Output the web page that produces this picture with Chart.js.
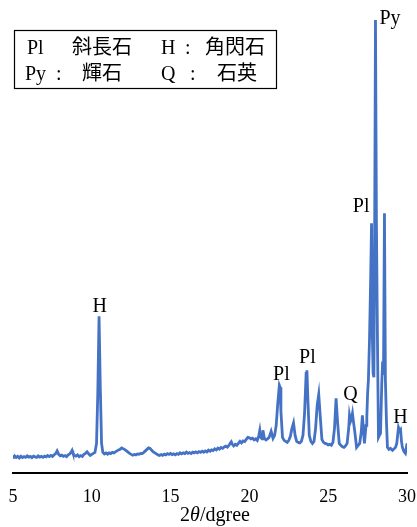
<!DOCTYPE html>
<html>
<head>
<meta charset="utf-8">
<script src="https://cdn.jsdelivr.net/npm/chart.js@4.4.1/dist/chart.umd.min.js"></script>
<style>
  html, body { margin: 0; padding: 0; background: #fff; }
  canvas { display: block; }
</style>
</head>
<body>
<canvas id="xrd" width="417" height="527"></canvas>
<script>
// 2theta (deg) and intensity
const twoTheta = [
  5.0, 5.1, 5.2, 5.3, 5.4, 5.5, 5.6, 5.7, 5.8, 5.9,
  6.0, 6.1, 6.2, 6.3, 6.4, 6.5, 6.6, 6.7, 6.8, 6.9,
  7.0, 7.1, 7.2, 7.3, 7.4, 7.5, 7.6, 7.7, 7.8, 7.9,
  8.0, 8.1, 8.2, 8.3, 8.4, 8.5, 8.6, 8.7, 8.75, 8.8, 8.9,
  9.0, 9.1, 9.2, 9.3, 9.4, 9.5, 9.6, 9.7, 9.8, 9.9,
  10.0, 10.1, 10.2, 10.3, 10.38, 10.46, 10.54, 10.62, 10.7, 10.8, 10.9,
  11.0, 11.1, 11.2, 11.3, 11.4, 11.5, 11.6, 11.7, 11.8, 11.9,
  12.0, 12.1, 12.2, 12.3, 12.4, 12.5, 12.6, 12.7, 12.8, 12.9,
  13.0, 13.1, 13.2, 13.3, 13.4, 13.5, 13.6, 13.7, 13.8, 13.9,
  14.0, 14.1, 14.2, 14.3, 14.4, 14.5, 14.6, 14.7, 14.8, 14.9,
  15.0, 15.1, 15.2, 15.3, 15.4, 15.5, 15.6, 15.7, 15.8, 15.9,
  16.0, 16.1, 16.2, 16.3, 16.4, 16.5, 16.6, 16.7, 16.8, 16.9,
  17.0, 17.1, 17.2, 17.3, 17.4, 17.5, 17.6, 17.7, 17.8, 17.9,
  18.0, 18.1, 18.2, 18.3, 18.4, 18.5, 18.6, 18.7, 18.8, 18.85, 18.9,
  19.0, 19.1, 19.2, 19.3, 19.4, 19.5, 19.6, 19.7, 19.8, 19.9,
  20.0, 20.1, 20.2, 20.3, 20.4, 20.5, 20.6, 20.66, 20.72, 20.8, 20.86, 20.95,
  21.05, 21.15, 21.25, 21.38, 21.5, 21.6, 21.7, 21.8, 21.9, 21.95,
  22.0, 22.1, 22.2, 22.3, 22.4, 22.5, 22.6, 22.7, 22.8, 22.9,
  23.0, 23.1, 23.2, 23.3, 23.4, 23.5, 23.6, 23.65, 23.72, 23.8, 23.9,
  24.0, 24.1, 24.2, 24.3, 24.4, 24.5, 24.6, 24.7, 24.8, 24.9,
  25.0, 25.1, 25.2, 25.3, 25.4, 25.5, 25.6, 25.7, 25.8, 25.9,
  26.0, 26.1, 26.2, 26.3, 26.35, 26.42, 26.47, 26.54, 26.6, 26.7, 26.8, 26.9,
  27.0, 27.1, 27.17, 27.25, 27.3, 27.4, 27.45, 27.5, 27.55, 27.62, 27.7, 27.75,
  27.8, 27.85, 27.9, 27.95, 28.0, 28.06, 28.13, 28.19, 28.25, 28.32, 28.4, 28.44,
  28.51, 28.57, 28.63, 28.7, 28.76, 28.85, 28.95,
  29.08, 29.18, 29.27, 29.35, 29.46, 29.53, 29.59, 29.65, 29.71, 29.8, 29.9, 29.96, 30.0
];
const intensity = [
  150, 175, 160, 170, 155, 172, 158, 168, 160, 175,
  162, 170, 158, 172, 165, 160, 175, 163, 170, 160,
  172, 165, 178, 168, 180, 170, 185, 195, 225, 190,
  175, 182, 170, 178, 168, 185, 195, 215, 230, 205, 180,
  172, 185, 168, 178, 170, 190, 200, 215, 195, 180,
  190, 200, 210, 300, 800, 1570, 850, 300, 210, 195, 205,
  192, 205, 198, 210, 205, 215, 225, 235, 242, 255,
  245, 238, 225, 212, 200, 190, 182, 190, 185, 195,
  192, 200, 198, 210, 225, 240, 255, 250, 230, 215,
  205, 195, 185, 180, 188, 180, 192, 185, 198, 190,
  200, 188, 195, 185, 198, 190, 205, 195, 205, 198,
  212, 200, 208, 198, 212, 205, 215, 205, 218, 210,
  222, 212, 225, 215, 232, 222, 235, 228, 245, 235,
  252, 242, 258, 250, 265, 272, 262, 280, 305, 315, 295,
  275, 290, 280, 300, 320, 305, 325, 318, 340, 360,
  355, 345, 352, 335, 345, 330, 380, 430, 360, 345, 430, 350,
  335, 345, 360, 420, 350, 380, 480, 700, 880, 860,
  620, 360, 330, 320, 310, 330, 370, 450, 505, 380,
  320, 310, 305, 320, 380, 600, 1000, 1030, 700, 380, 320,
  300, 320, 450, 680, 790, 560, 340, 310, 300, 295,
  285, 290, 280, 310, 450, 750, 500, 300, 280, 265,
  260, 275, 300, 450, 580, 520, 540, 600, 520, 400, 260, 280,
  300, 420, 580, 400, 300, 480, 560, 800, 930, 1330, 2000, 2500,
  1400, 1000, 960, 2500, 4530, 2500, 1260, 360, 380, 400, 900, 1060,
  1030, 2600, 930, 500, 260, 240, 250,
  230, 245, 260, 300, 460, 430, 440, 320, 260, 220, 200, 260, 300
];
const xTicks = [5, 10, 15, 20, 25, 30];

// mineral labels over the peaks (anchor in data units)
const peakText = ['H', 'Pl', 'Pl', 'Q', 'Pl', 'Py', 'H'];
const peakAt = [10.5, 22.03, 23.68, 26.41, 27.62, 28.25, 29.59];
const peakTop = [1610, 930, 1100, 730, 2610, 4490, 500];
const peakAlign = ['center', 'center', 'center', 'center', 'right', 'left', 'center'];

const SERIF = '"Liberation Serif", "Times New Roman", serif';
const CJK = '"Noto Sans CJK JP", sans-serif';

const points = twoTheta.map((t, i) => ({ x: t, y: intensity[i] }));

const labelsPlugin = {
  id: 'xrdLabels',
  afterDraw(chart) {
    const ctx = chart.ctx;
    const xs = chart.scales.x, ys = chart.scales.y;
    ctx.save();
    ctx.fillStyle = '#000';
    ctx.textBaseline = 'alphabetic';
    ctx.font = '20px ' + SERIF;
    peakText.forEach((txt, i) => {
      ctx.textAlign = peakAlign[i];
      ctx.fillText(txt, xs.getPixelForValue(peakAt[i]), ys.getPixelForValue(peakTop[i]));
    });

    // axis title with italic theta
    const parts = [['2', 'normal'], ['θ', 'italic'], ['/dgree', 'normal']];
    let w = 0;
    parts.forEach(p => { ctx.font = p[1] + ' 20px ' + SERIF; w += ctx.measureText(p[0]).width; });
    let x = 215 - w / 2;
    ctx.textAlign = 'left';
    parts.forEach(p => {
      ctx.font = p[1] + ' 20px ' + SERIF;
      ctx.fillText(p[0], x, 521);
      x += ctx.measureText(p[0]).width;
    });

    // legend box
    ctx.strokeStyle = '#000';
    ctx.lineWidth = 1.2;
    ctx.strokeRect(14.5, 30.5, 262, 58);
    ctx.font = '20px ' + SERIF;
    ctx.fillText('Pl', 27, 54);
    ctx.fillText('H', 161, 54);
    ctx.fillText(':', 185, 54);
    ctx.fillText('Py', 25, 80);
    ctx.fillText(':', 56, 80);
    ctx.fillText('Q', 161, 80);
    ctx.fillText(':', 190, 80);
    ctx.font = '20px ' + CJK;
    ctx.fillText('斜長石', 72, 54);
    ctx.fillText('角閃石', 205, 54);
    ctx.fillText('輝石', 82, 80);
    ctx.fillText('石英', 217, 80);
    ctx.restore();
  }
};

new Chart(document.getElementById('xrd'), {
  type: 'line',
  data: {
    datasets: [{
      data: points,
      borderColor: '#4472C4',
      borderWidth: 2.8,
      pointRadius: 0,
      tension: 0,
      fill: false
    }]
  },
  options: {
    responsive: false,
    animation: false,
    devicePixelRatio: 1,
    layout: { padding: { top: 10, left: 13, right: 10, bottom: 6 } },
    plugins: { legend: { display: false }, tooltip: { enabled: false } },
    scales: {
      x: {
        type: 'linear',
        min: 5,
        max: 30,
        afterBuildTicks: s => { s.ticks = xTicks.map(v => ({ value: v })); },
        afterFit: s => { s.paddingLeft = 0; s.paddingRight = 0; },
        grid: { display: false, drawTicks: false },
        border: { display: true, color: '#000', width: 2 },
        ticks: { color: '#000', padding: 13, font: { family: SERIF, size: 18 } }
      },
      y: {
        display: false,
        min: 0,
        max: 4630
      }
    }
  },
  plugins: [labelsPlugin]
});
</script>
</body>
</html>
